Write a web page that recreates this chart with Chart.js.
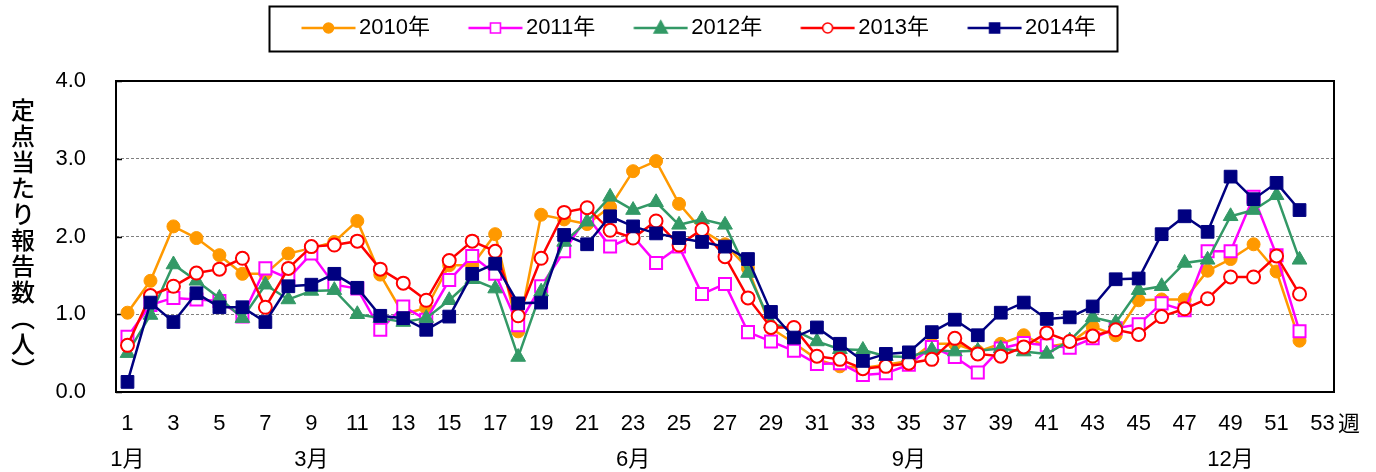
<!DOCTYPE html>
<html>
<head>
<meta charset="utf-8">
<script src="https://cdn.jsdelivr.net/npm/chart.js@4.4.1/dist/chart.umd.min.js"></script>
<style>
  html, body { margin: 0; padding: 0; background: #fff; }
  #wrap { width: 1376px; height: 472px; }
</style>
</head>
<body>
<div id="wrap"><canvas id="c" width="1376" height="472"></canvas></div>
<script>
// 週番号 (1..53)
const weekLabels = ['1','2','3','4','5','6','7','8','9','10','11','12','13','14','15','16','17','18','19','20',
  '21','22','23','24','25','26','27','28','29','30','31','32','33','34','35','36','37','38','39','40',
  '41','42','43','44','45','46','47','48','49','50','51','52','53']
// 月の目安 (週 -> 月ラベル)
const monthWeeks = ['1', '9', '23', '35', '49']
const monthNames = ['1月', '3月', '6月', '9月', '12月']
const yTicks = [0, 1, 2, 3, 4]

const y2010 = [1.02,1.43,2.13,1.98,1.76,1.52,1.52,1.78,1.85,1.93,2.20,1.51,1.00,1.08,1.63,1.63,2.03,0.78,2.28,2.22,
  2.16,2.38,2.84,2.97,2.42,2.08,1.90,1.59,0.82,0.63,0.42,0.33,0.31,0.35,0.40,0.62,0.62,0.52,0.62,0.73,
  0.58,0.63,0.84,0.73,1.18,1.19,1.19,1.56,1.71,1.90,1.55,0.66]
const y2011 = [0.71,1.12,1.21,1.19,1.17,0.97,1.59,1.46,1.78,1.38,1.33,0.80,1.10,0.93,1.44,1.75,1.52,0.86,1.36,1.81,
  2.26,1.87,2.00,1.66,1.87,1.26,1.39,0.77,0.65,0.53,0.36,0.37,0.22,0.24,0.35,0.58,0.45,0.25,0.56,0.63,
  0.60,0.57,0.69,0.82,0.87,1.14,1.05,1.81,1.81,2.51,1.76,0.78]
const y2012 = [0.50,0.99,1.64,1.43,1.21,0.95,1.38,1.19,1.30,1.31,1.00,0.95,0.90,0.95,1.18,1.45,1.33,0.45,1.29,1.93,
  2.19,2.51,2.34,2.44,2.15,2.22,2.15,1.53,0.88,0.80,0.65,0.55,0.54,0.46,0.45,0.54,0.52,0.53,0.56,0.52,
  0.49,0.66,0.96,0.89,1.31,1.36,1.66,1.70,2.26,2.34,2.53,1.70]
const y2013 = [0.60,1.24,1.36,1.53,1.58,1.72,1.09,1.59,1.87,1.89,1.94,1.58,1.40,1.18,1.69,1.94,1.81,0.98,1.72,2.31,
  2.37,2.08,1.98,2.20,1.89,2.09,1.74,1.21,0.83,0.83,0.46,0.42,0.30,0.33,0.37,0.42,0.69,0.49,0.46,0.58,
  0.76,0.65,0.72,0.80,0.74,0.97,1.07,1.20,1.48,1.48,1.75,1.26]
const y2014 = [0.13,1.15,0.90,1.27,1.09,1.09,0.90,1.36,1.38,1.52,1.34,0.98,0.95,0.80,0.97,1.52,1.65,1.14,1.15,2.02,
  1.90,2.26,2.13,2.04,1.98,1.93,1.87,1.71,1.03,0.70,0.83,0.62,0.40,0.49,0.51,0.77,0.93,0.73,1.02,1.15,
  0.94,0.96,1.10,1.45,1.46,2.03,2.26,2.06,2.77,2.48,2.69,2.34]

const FONT = "'Liberation Sans', Arial, 'Noto Sans CJK JP', sans-serif"
Chart.defaults.font.family = FONT
Chart.defaults.color = '#000'

// 凡例用の線＋マーカー画像
function makeIcon(color, shape, fill) {
  const c = document.createElement('canvas')
  c.width = 84; c.height = 22
  const g = c.getContext('2d')
  g.strokeStyle = color
  g.lineWidth = 2.5
  g.beginPath(); g.moveTo(29.5, 11); g.lineTo(83.5, 11); g.stroke()
  const cx = 56.5, cy = 11
  g.fillStyle = fill
  g.lineWidth = 1.6
  g.beginPath()
  if (shape === 'circle') g.arc(cx, cy, 5, 0, Math.PI * 2)
  else if (shape === 'rect') g.rect(cx - 5, cy - 5, 10, 10)
  else { g.moveTo(cx, cy - 7); g.lineTo(cx + 6.5, cy + 5); g.lineTo(cx - 6.5, cy + 5); g.closePath() }
  g.fill(); g.stroke()
  return c
}

const series = [
  { label: '2010年', data: y2010, color: '#FF9900', shape: 'circle', fill: '#FF9900', r: 6.5, bw: 1 },
  { label: '2011年', data: y2011, color: '#FF00FF', shape: 'rect', fill: '#FFFFFF', r: 8.5, bw: 2 },
  { label: '2012年', data: y2012, color: '#339966', shape: 'triangle', fill: '#339966', r: 8.5, bw: 1 },
  { label: '2013年', data: y2013, color: '#FF0000', shape: 'circle', fill: '#FFFFFF', r: 6.5, bw: 2 },
  { label: '2014年', data: y2014, color: '#000080', shape: 'rect', fill: '#000080', r: 9, bw: 1 },
]
const icons = series.map(s => makeIcon(s.color, s.shape, s.fill))

const extras = {
  id: 'extras',
  beforeDatasetsDraw(chart) {
    const { ctx, chartArea: a, scales: { y } } = chart
    ctx.save()
    ctx.strokeStyle = '#000'
    ctx.lineWidth = 2
    ctx.strokeRect(a.left, a.top, a.right - a.left, a.bottom - a.top)
    ctx.lineWidth = 1.5
    yTicks.forEach(v => {
      const py = Math.round(y.getPixelForValue(v)) + 0.5
      ctx.beginPath(); ctx.moveTo(a.left, py); ctx.lineTo(a.left + 6, py); ctx.stroke()
    })
    ctx.restore()
  },
  afterDraw(chart) {
    const { ctx, chartArea: a } = chart
    ctx.save()
    // 凡例の枠
    const hb = chart.legend.legendHitBoxes
    if (hb && hb.length) {
      const l = hb[0].left - 11
      const r = hb[hb.length - 1].left + hb[hb.length - 1].width + 21
      ctx.strokeStyle = '#000'
      ctx.lineWidth = 2
      ctx.strokeRect(Math.round(l) + 0.5, 6.5, Math.round(r - l), 45)
    }
    // 縦書きの軸タイトル
    ctx.fillStyle = '#000'
    ctx.font = "500 24px 'Noto Sans CJK JP', sans-serif"
    ctx.textAlign = 'center'
    ctx.textBaseline = 'middle'
    const chars = ['定', '点', '当', 'た', 'り', '報', '告', '数', '︵', '人', '︶']
    chars.forEach((ch, i) => ctx.fillText(ch, 23, 110 + i * 26))
    // 週
    ctx.font = "22px " + FONT
    ctx.fillText('週', a.right + 15, 425)
    ctx.restore()
  }
}

new Chart(document.getElementById('c'), {
  type: 'line',
  data: {
    labels: weekLabels,
    datasets: series.map((s, i) => ({
      label: s.label,
      data: s.data,
      borderColor: s.color,
      backgroundColor: s.fill,
      borderWidth: 2.5,
      pointStyle: s.shape,
      pointRadius: s.r,
      pointBorderWidth: s.bw,
      pointBorderColor: s.color,
      pointBackgroundColor: s.fill,
      tension: 0,
      order: series.length - i,
    }))
  },
  options: {
    responsive: false,
    animation: false,
    devicePixelRatio: 1,
    layout: { padding: { top: 0, left: 0, right: 0, bottom: 0 } },
    plugins: {
      tooltip: { enabled: false },
      title: { display: true, text: '', weight: 500, font: { size: 10, lineHeight: 1.2 }, padding: { top: 10, bottom: 10 } },
      legend: {
        position: 'top',
        labels: {
          usePointStyle: true,
          pointStyleWidth: 68,
          padding: 17,
          color: '#000',
          font: { size: 22 },
          generateLabels: chart => chart.data.datasets.map((ds, i) => ({
            text: ds.label,
            pointStyle: icons[i],
            fillStyle: 'rgba(0,0,0,0)',
            strokeStyle: 'rgba(0,0,0,0)',
            lineWidth: 0,
            hidden: false,
            datasetIndex: i,
            fontColor: '#000',
          }))
        }
      }
    },
    scales: {
      x: {
        type: 'category',
        offset: true,
        grid: { display: false, drawTicks: false },
        border: { display: false },
        ticks: {
          autoSkip: false,
          maxRotation: 0,
          minRotation: 0,
          padding: 14,
          color: '#000',
          font: { size: 22, lineHeight: 1.64 },
          callback: (v, i) => {
            const w = weekLabels[i]
            if (Number(w) % 2 === 0) return ''
            const m = monthWeeks.indexOf(w)
            return m >= 0 ? [w, monthNames[m]] : w
          }
        },
        afterFit: s => { s.height = 80 }
      },
      y: {
        min: 0,
        max: 4,
        grid: {
          drawTicks: false,
          lineWidth: 1,
          color: c => (c.tick && (c.tick.value === 0 || c.tick.value === 4)) ? 'rgba(0,0,0,0)' : '#808080'
        },
        border: { display: false, dash: [3, 2] },
        ticks: {
          stepSize: 1,
          padding: 30,
          color: '#000',
          font: { size: 22 },
          callback: v => v.toFixed(1)
        },
        afterFit: s => { s.width = 116 }
      },
      y2: {
        position: 'right',
        grid: { display: false, drawTicks: false },
        border: { display: false },
        ticks: { display: false },
        afterFit: s => { s.width = 42 }
      }
    }
  },
  plugins: [extras]
})
</script>
</body>
</html>
